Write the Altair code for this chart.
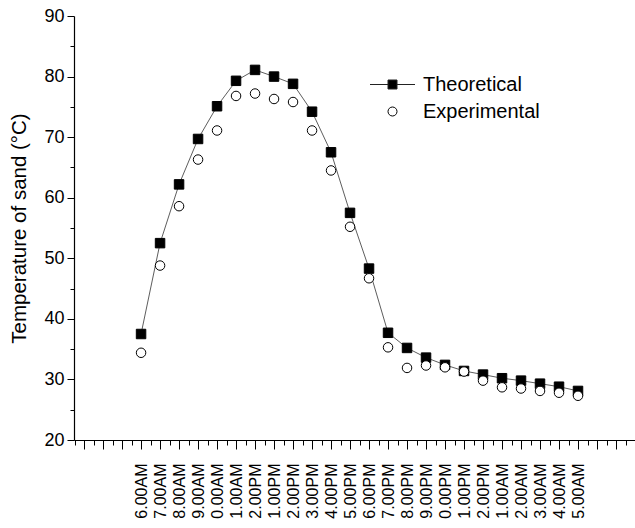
import altair as alt
import pandas as pd

time_labels = ["6.00AM", "7.00AM", "8.00AM", "9.00AM", "0.00AM", "1.00AM", "2.00PM",
               "1.00PM", "2.00PM", "3.00PM", "4.00PM", "5.00PM", "6.00PM", "7.00PM",
               "8.00PM", "9.00PM", "0.00PM", "1.00PM", "2.00PM", "1.00AM", "2.00AM",
               "3.00AM", "4.00AM", "5.00AM"]
theoretical = [37.5, 52.5, 62.2, 69.7, 75.1, 79.3, 81.1, 80.0, 78.8, 74.2, 67.5, 57.5,
               48.3, 37.7, 35.2, 33.6, 32.4, 31.4, 30.8, 30.2, 29.8, 29.3, 28.8, 28.1]
experimental = [34.4, 48.8, 58.6, 66.3, 71.1, 76.8, 77.2, 76.3, 75.8, 71.1, 64.5, 55.2,
                46.7, 35.3, 31.9, 32.3, 32.0, 31.3, 29.8, 28.7, 28.5, 28.1, 27.8, 27.3]
series_names = ["Theoretical", "Experimental"]

idx = list(range(len(time_labels)))
df_theo = pd.DataFrame({"idx": idx, "value": theoretical, "series": series_names[0]})
df_exp = pd.DataFrame({"idx": idx, "value": experimental, "series": series_names[1]})
df_all = pd.concat([df_theo, df_exp], ignore_index=True)

FONT = "Liberation Sans"
label_array = "[" + ",".join("'" + s + "'" for s in time_labels) + "]"
x_label_expr = (
    f"(datum.value % 1 === 0 && datum.value >= 0 && datum.value < {len(time_labels)})"
    f" ? {label_array}[datum.value] : ''"
)

x_scale = alt.Scale(domain=[-3.53, 26], nice=False, zero=False)
y_scale = alt.Scale(domain=[20, 90], nice=False, zero=False)

x_axis = alt.Axis(
    values=[i * 0.5 for i in range(-7, 52)],
    labelExpr=x_label_expr,
    labelAngle=-90,
    labelFont=FONT,
    labelFontSize=16,
    labelColor="black",
    labelOverlap=False,
    labelPadding=14,
    tickSize={"condition": {"test": "datum.value % 1 === 0", "value": 9}, "value": 5},
    grid=False,
    title=None,
)
y_axis = alt.Axis(
    values=list(range(20, 91, 5)),
    labelExpr="datum.value % 10 === 0 ? datum.value : ''",
    labelFont=FONT,
    labelFontSize=18,
    labelColor="black",
    labelPadding=3,
    tickSize={"condition": {"test": "datum.value % 10 === 0", "value": 7}, "value": 4},
    grid=False,
    title="Temperature of sand (°C)",
    titleFont=FONT,
    titleFontSize=20.5,
    titleFontWeight="normal",
    titleColor="black",
    titlePadding=14,
)

line = alt.Chart(df_theo).mark_line(color="#333333", strokeWidth=0.8).encode(
    x=alt.X("idx:Q", scale=x_scale, axis=x_axis),
    y=alt.Y("value:Q", scale=y_scale, axis=y_axis),
)

points = alt.Chart(df_all).mark_point(size=90, filled=True, strokeWidth=1, opacity=1,
                                      stroke="black").encode(
    x=alt.X("idx:Q", scale=x_scale, axis=x_axis),
    y=alt.Y("value:Q", scale=y_scale, axis=y_axis),
    shape=alt.Shape("series:N", scale=alt.Scale(domain=series_names, range=["square", "circle"]),
                    legend=None),
    fill=alt.Fill("series:N", scale=alt.Scale(domain=series_names, range=["black", "white"]),
                  legend=None),
)

# legend-only layer: symbols drawn as line+square and circle
theo_path = "M-2.25,0H-0.45M-0.45,-0.45H0.45V0.45H-0.45ZM0.45,0H2.25"
exp_path = "M0.45,0A0.45,0.45,0,1,1,-0.45,0A0.45,0.45,0,1,1,0.45,0Z"

legend = alt.Legend(
    title=None,
    orient="none",
    legendX=308,
    legendY=58,
    padding=0,
    labelFont=FONT,
    labelFontSize=20,
    labelColor="black",
    labelOffset=20,
    symbolSize=400,
    symbolOpacity=1,
    symbolStrokeWidth=1,
    rowPadding=6,
)

legend_layer = alt.Chart(df_all).mark_point(filled=True, opacity=0, strokeWidth=1).encode(
    x=alt.X("idx:Q", scale=x_scale, axis=x_axis),
    y=alt.Y("value:Q", scale=y_scale, axis=y_axis),
    shape=alt.Shape("series:N", scale=alt.Scale(domain=series_names, range=[theo_path, exp_path]),
                    legend=legend),
    fill=alt.Fill("series:N", scale=alt.Scale(domain=series_names, range=["black", "white"]),
                  legend=legend),
    stroke=alt.Stroke("series:N", scale=alt.Scale(domain=series_names, range=["#222222", "black"]),
                      legend=legend),
)

chart = alt.layer(line, points, legend_layer).resolve_scale(
    shape="independent", fill="independent", stroke="independent"
).properties(
    width=561,
    height=424,
    autosize=alt.AutoSizeParams(type="none"),
    padding={"left": 74, "top": 16, "right": 0, "bottom": 88},
    background="white",
).configure_view(stroke=None).configure_axis(
    domainColor="black",
    domainWidth=1.2,
    tickColor="black",
    tickWidth=1,
)

chart.save("out.html", embed_options={"renderer": "svg", "actions": False})
